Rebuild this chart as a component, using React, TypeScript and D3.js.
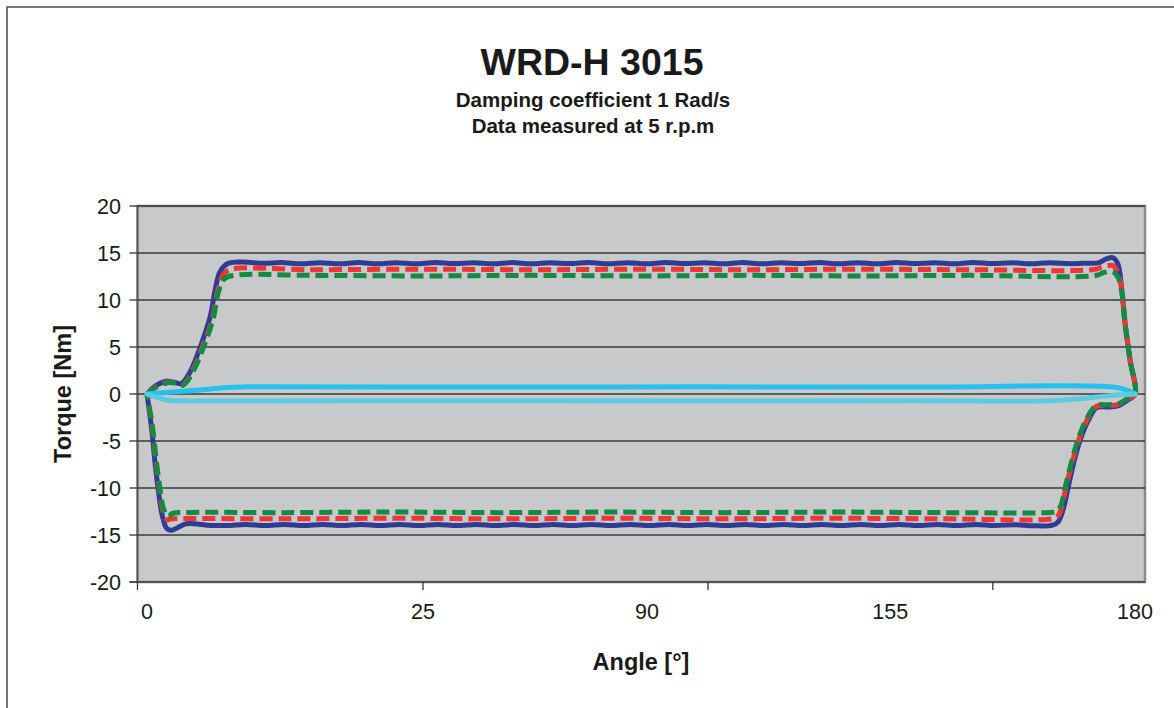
import React from "react";
import * as d3 from "d3";

// ---------- data ----------
const yTicks = [20, 15, 10, 5, 0, -5, -10, -15, -20];
// x positions along the sample axis (0..180 = first..last sample)
const xTickMarks = [-1.73, 50.28, 102.2, 154.1];
const xLabels = ["0", "25", "90", "155", "180"];
const xLabelPos = [0, 50.28, 91.1, 135.4, 180];

// dark blue series (solid) – closed loop
const blueSeries: [number, number][] = [
  [0, 0], [1.5, 0.85], [3.6, 1.35], [5.0, 1.25], [6.2, 1.1], [7.8, 2.3], [9.7, 5.0], [11.5, 8.2], [12.4, 11.0],
  [13.3, 13.0], [14.8, 13.9], [17.5, 14.05], [21, 13.9], [24.5, 13.98], [28, 13.86], [31.5, 13.97], [35, 13.86],
  [38.5, 13.98], [42, 13.86], [45.5, 13.97], [49, 13.86], [52.5, 13.98], [56, 13.87], [59.5, 13.97], [63, 13.86],
  [66.5, 13.98], [70, 13.86], [73.5, 13.97], [77, 13.87], [80.5, 13.98], [84, 13.86], [87.5, 13.97], [91, 13.86],
  [94.5, 13.98], [98, 13.87], [101.5, 13.97], [105, 13.86], [108.5, 13.98], [112, 13.86], [115.5, 13.97],
  [119, 13.87], [122.5, 13.98], [126, 13.86], [129.5, 13.97], [133, 13.86], [136.5, 13.98], [140, 13.87],
  [143.5, 13.97], [147, 13.86], [150.5, 13.98], [154, 13.87], [157.5, 13.97], [161, 13.86], [164.5, 13.97],
  [168, 13.87], [171.5, 13.92], [173.3, 13.95], [174.9, 14.4], [176.0, 14.5], [176.9, 13.8], [177.6, 11.0],
  [178.2, 7.5], [179.1, 3.6], [180, 0],
  [178.5, -0.7], [176.7, -1.3], [174.9, -1.38], [173.0, -1.45], [171.5, -2.8], [170.0, -4.9], [168.8, -7.4],
  [167.8, -10.0], [166.9, -12.3], [166.0, -13.6], [165.0, -13.95], [161.5, -14.02], [158, -13.9], [154.5, -14.0],
  [151, -13.88], [147.5, -14.0], [144, -13.88], [140.5, -14.0], [137, -13.88], [133.5, -14.0], [130, -13.88],
  [126.5, -14.0], [123, -13.88], [119.5, -14.0], [116, -13.88], [112.5, -14.0], [109, -13.88], [105.5, -14.0],
  [102, -13.88], [98.5, -14.0], [95, -13.88], [91.5, -14.0], [88, -13.88], [84.5, -14.0], [81, -13.88],
  [77.5, -14.0], [74, -13.88], [70.5, -14.0], [67, -13.88], [63.5, -14.0], [60, -13.88], [56.5, -14.0],
  [53, -13.88], [49.5, -14.0], [46, -13.88], [42.5, -14.0], [39, -13.88], [35.5, -14.0], [32, -13.88],
  [28.5, -14.0], [25, -13.88], [21.5, -14.0], [18, -13.88], [14.5, -14.0], [10.9, -13.95], [7.2, -13.8],
  [4.5, -14.5], [3.6, -14.3], [2.7, -12.7], [2.06, -10.2], [1.46, -7.3], [0.86, -3.8], [0, 0],
];

// red series (dashed) – closed loop
const redSeries: [number, number][] = [
  [0, 0], [1.6, 0.75], [3.8, 1.25], [5.3, 1.2], [6.6, 1.0], [8.3, 2.5], [10.1, 5.0], [11.9, 8.0], [12.9, 11.0],
  [13.9, 12.7], [15.3, 13.25], [30, 13.22], [50, 13.28], [70, 13.22], [90, 13.28], [110, 13.22], [130, 13.28],
  [150, 13.22], [172.5, 13.25], [174.3, 13.55], [176.0, 13.65], [176.9, 12.9], [177.6, 11.0], [178.2, 7.5],
  [179.1, 3.6], [180, 0],
  [178.5, -0.6], [176.7, -1.15], [174.9, -1.22], [173.0, -1.3], [171.4, -2.6], [169.8, -4.8], [168.5, -7.4],
  [167.4, -10.0], [166.5, -12.3], [165.8, -13.1], [164.8, -13.3], [145, -13.28], [125, -13.22], [105, -13.28],
  [85, -13.22], [65, -13.28], [45, -13.22], [25, -13.28], [8, -13.25], [4.2, -13.3], [3.7, -13.4],
  [2.9, -12.4], [2.25, -10.0], [1.6, -7.0], [0.95, -3.6], [0, 0],
];

// green series (dashed) – closed loop
const greenSeries: [number, number][] = [
  [0, 0], [1.6, 0.7], [3.8, 1.2], [5.3, 1.15], [6.6, 0.95], [8.4, 2.4], [10.3, 5.0], [12.0, 7.9], [13.0, 10.8],
  [14.0, 12.2], [15.6, 12.6], [30, 12.62], [50, 12.56], [70, 12.62], [90, 12.56], [110, 12.62], [130, 12.56],
  [150, 12.62], [172.8, 12.6], [174.5, 12.95], [176.0, 13.0], [176.9, 12.4], [177.6, 10.8], [178.2, 7.4],
  [179.1, 3.6], [180, 0],
  [178.5, -0.55], [176.7, -1.1], [174.9, -1.15], [173.0, -1.2], [171.3, -2.5], [169.7, -4.7], [168.4, -7.3],
  [167.3, -9.9], [166.4, -12.0], [165.6, -12.5], [164.6, -12.6], [145, -12.62], [125, -12.56], [105, -12.62],
  [85, -12.56], [65, -12.62], [45, -12.56], [25, -12.62], [8, -12.6], [4.6, -12.7], [3.9, -13.05],
  [3.0, -12.2], [2.3, -9.8], [1.65, -6.9], [1.0, -3.5], [0, 0],
];

// light blue series (solid, upper)
const skySeries: [number, number][] = [
  [0, 0], [3.6, 0.17], [9.7, 0.42], [14.5, 0.7], [18, 0.76], [60, 0.74], [100, 0.76], [140, 0.74],
  [176, 0.74], [178.5, 0.42], [180, 0],
];

// cyan series (solid, lower)
const cyanSeries: [number, number][] = [
  [0, 0], [0.6, -0.12], [4.2, -0.7], [8, -0.74], [50, -0.72], [100, -0.74], [140, -0.72], [165, -0.72],
  [170.5, -0.47], [174.9, -0.2], [180, 0],
];

// ---------- layout ----------
const W = 1174;
const H = 708;
const plotL = 137.5;
const plotR = 1145;
const plotT = 206;
const plotB = 582;
const FONT = "'Liberation Sans', Arial, Helvetica, sans-serif";

export default function App() {
  const x = d3.scaleLinear().domain([0, 180]).range([147, 1135]);
  const y = d3.scaleLinear().domain([-20, 20]).range([plotB, plotT]);
  const line = d3
    .line<[number, number]>()
    .x((d) => x(d[0]))
    .y((d) => y(d[1]))
    .curve(d3.curveCatmullRom.alpha(0.5));

  return (
    <svg
      width={W}
      height={H}
      style={{ position: "absolute", left: 0, top: 0, background: "#fff" }}
      fontFamily={FONT}
    >
      <rect x={7} y={7} width={W + 20} height={H + 20} fill="#fff" stroke="#4a4a4a" strokeWidth={1.5} />

      {/* titles */}
      <text x={592} y={75} textAnchor="middle" fontSize={37.5} fontWeight="bold" fill="#1a1a1a">
        WRD-H 3015
      </text>
      <text x={593} y={107} textAnchor="middle" fontSize={20.5} fontWeight="bold" fill="#1a1a1a">
        Damping coefficient 1 Rad/s
      </text>
      <text x={593} y={133} textAnchor="middle" fontSize={20.5} fontWeight="bold" fill="#1a1a1a">
        Data measured at 5 r.p.m
      </text>

      {/* plot area */}
      <rect x={plotL} y={plotT} width={plotR - plotL} height={plotB - plotT} fill="#c8c9cb" stroke="#8a8a8a" strokeWidth={2.5} />

      {/* gridlines */}
      {yTicks.map((t) => (
        <line key={"g" + t} x1={plotL} x2={plotR} y1={y(t)} y2={y(t)} stroke="#383838" strokeWidth={1.3} />
      ))}

      {/* axes */}
      <line x1={plotL} x2={plotL} y1={plotT} y2={plotB} stroke="#555" strokeWidth={1.5} />
      <line x1={plotL - 8} x2={plotR} y1={plotB} y2={plotB} stroke="#555" strokeWidth={1.5} />
      {yTicks.map((t) => (
        <line key={"yt" + t} x1={plotL - 8} x2={plotL} y1={y(t)} y2={y(t)} stroke="#333" strokeWidth={1.3} />
      ))}
      {xTickMarks.map((t) => (
        <line key={"xt" + t} x1={x(t)} x2={x(t)} y1={plotB} y2={plotB + 8} stroke="#333" strokeWidth={1.3} />
      ))}
      {yTicks.map((t) => (
        <text key={"yl" + t} x={121} y={y(t) + 7.5} textAnchor="end" fontSize={21.5} fill="#1a1a1a">
          {t}
        </text>
      ))}
      {xLabels.map((l, i) => (
        <text key={"xl" + l} x={x(xLabelPos[i])} y={619} textAnchor="middle" fontSize={21.5} fill="#1a1a1a">
          {l}
        </text>
      ))}

      {/* axis titles */}
      <text x={641} y={670} textAnchor="middle" fontSize={23.5} fontWeight="bold" fill="#1a1a1a">
        Angle [°]
      </text>
      <text
        transform={`translate(71, 394) rotate(-90)`}
        textAnchor="middle"
        fontSize={23.5}
        fontWeight="bold"
        fill="#1a1a1a"
      >
        Torque [Nm]
      </text>

      {/* series */}
      <g fill="none" strokeLinejoin="round">
        <path d={line(blueSeries) ?? ""} stroke="#2d3d96" strokeWidth={5} />
        <path d={line(redSeries) ?? ""} stroke="#ef3535" strokeWidth={5} strokeDasharray="13 6" />
        <path d={line(greenSeries) ?? ""} stroke="#148a44" strokeWidth={5} strokeDasharray="13 6" />
        <path d={line(skySeries) ?? ""} stroke="#24c1f0" strokeWidth={5} strokeLinecap="round" />
        <path d={line(cyanSeries) ?? ""} stroke="#5ccbdf" strokeWidth={5} strokeLinecap="round" />
      </g>
    </svg>
  );
}
